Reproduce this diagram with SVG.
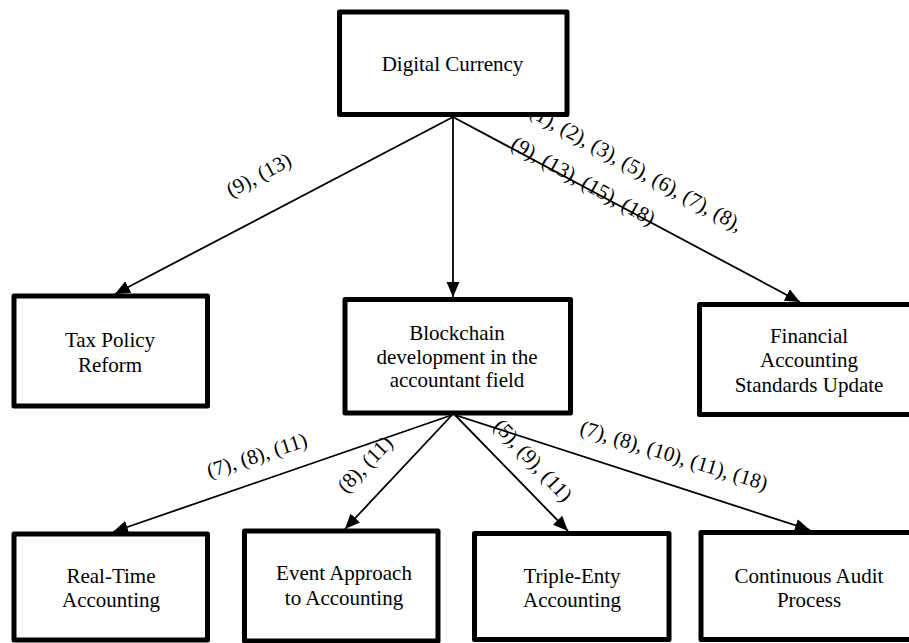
<svg xmlns="http://www.w3.org/2000/svg" width="909" height="643" viewBox="0 0 909 643">
<defs>
<style>
.box{fill:#fff;stroke:#000;stroke-width:5;stroke-linejoin:round}
text{font-family:'Liberation Serif','Times New Roman',Times,'DejaVu Serif',serif;font-size:21px;fill:#000;text-anchor:middle}
.c{stroke:#000;stroke-width:1.8;fill:none;marker-end:url(#ah)}
</style>
<marker id="ah" markerUnits="userSpaceOnUse" markerWidth="16" markerHeight="14" refX="15" refY="7" orient="auto" viewBox="0 0 16 14">
<path d="M0,0.5 L15,7 L0,13.5 z" fill="#000"/>
</marker>
</defs>
<rect width="909" height="643" fill="#fff"/>
<g id="connectors">
<line class="c" x1="453" y1="117" x2="115" y2="294"/>
<line class="c" x1="453" y1="117" x2="453" y2="297"/>
<line class="c" x1="453" y1="117" x2="800" y2="302"/>
<line class="c" x1="452" y1="415" x2="113" y2="532"/>
<line class="c" x1="452" y1="415" x2="345" y2="529"/>
<line class="c" x1="455" y1="415" x2="568" y2="531"/>
<line class="c" x1="455" y1="415" x2="810" y2="530"/>
<text font-family="Liberation Serif, serif" x="262" y="181" transform="rotate(-28 262 181)">(9), (13)</text>
<text font-family="Liberation Serif, serif" x="633" y="174" transform="rotate(29 633 174)">(1), (2), (3), (5), (6), (7), (8),</text>
<text font-family="Liberation Serif, serif" x="580" y="187" transform="rotate(29 580 187)">(9), (13), (15), (18)</text>
<text font-family="Liberation Serif, serif" x="259" y="462" transform="rotate(-18 259 462)">(7), (8), (11)</text>
<text font-family="Liberation Serif, serif" x="370" y="469" transform="rotate(-46 370 469)">(8), (11)</text>
<text font-family="Liberation Serif, serif" x="528" y="465" transform="rotate(47 528 465)">(5), (9), (11)</text>
<text font-family="Liberation Serif, serif" x="672" y="462" transform="rotate(17 672 462)">(7), (8), (10), (11), (18)</text>
</g>
<g id="digital-currency">
<rect class="box" x="339.5" y="12" width="227.5" height="102.5"/>
<text x="452.5" y="71">Digital Currency</text>
</g>
<g id="tax-policy-reform">
<rect class="box" x="14" y="296" width="193.5" height="110"/>
<text x="110" y="347">Tax Policy</text>
<text x="110" y="372">Reform</text>
</g>
<g id="blockchain">
<rect class="box" x="345" y="299.5" width="225.5" height="113.5"/>
<text x="457" y="340">Blockchain</text>
<text x="457" y="363.5">development in the</text>
<text x="457" y="387">accountant field</text>
</g>
<g id="financial-accounting">
<rect class="box" x="699.5" y="304.5" width="220" height="110"/>
<text x="809" y="343">Financial</text>
<text x="809" y="367">Accounting</text>
<text x="809" y="392">Standards Update</text>
</g>
<g id="real-time">
<rect class="box" x="14" y="534" width="193.5" height="106"/>
<text x="111" y="583">Real-Time</text>
<text x="111" y="607">Accounting</text>
</g>
<g id="event-approach">
<rect class="box" x="244.5" y="531" width="193.5" height="110"/>
<text x="344" y="580">Event Approach</text>
<text x="344" y="605">to Accounting</text>
</g>
<g id="triple-entry">
<rect class="box" x="474.5" y="533.5" width="194.5" height="106"/>
<text x="572" y="583">Triple-Enty</text>
<text x="572" y="607">Accounting</text>
</g>
<g id="continuous-audit">
<rect class="box" x="701" y="532.5" width="220" height="107"/>
<text x="809" y="583">Continuous Audit</text>
<text x="809" y="607">Process</text>
</g>
</svg>
